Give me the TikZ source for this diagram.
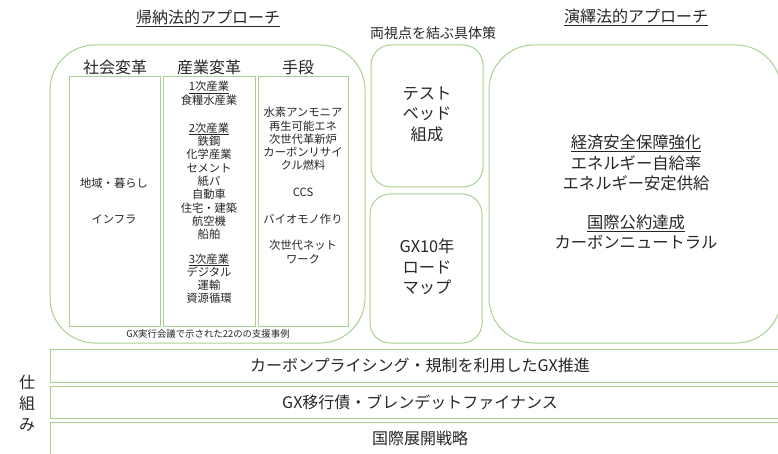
\documentclass[tikz,border=0pt]{standalone}
\usepackage{fontspec}
\setmainfont{Noto Sans CJK JP}
\definecolor{gline}{HTML}{A9D08E}
\definecolor{txt}{HTML}{262626}
\tikzset{
  gbox/.style={draw=gline, line width=1pt},
  ttl/.style={font=\fontsize{16}{18}\selectfont, text=txt, inner sep=0pt},
  ttlb/.style={font=\fontsize{14}{16}\selectfont, text=txt, inner sep=0pt},
  hdr/.style={font=\fontsize{16}{18}\selectfont, text=txt, inner sep=0pt},
  big/.style={font=\fontsize{16.3}{20.5}\selectfont, text=txt, inner sep=0pt, align=center},
  small/.style={font=\fontsize{11.3}{13.3}\selectfont, text=txt, inner sep=0pt, align=center},
  bar/.style={font=\fontsize{16}{18}\selectfont, text=txt, inner sep=0pt},
}
\begin{document}
\begin{tikzpicture}[x=1pt,y=-1pt]
\useasboundingbox (0,0) rectangle (778,454);
\clip (0,0) rectangle (778,454);
% titles
\node[ttl] (t1) at (208,18) {\underline{帰納法的アプローチ}};
\node[ttlb] (t2) at (433,33) {両視点を結ぶ具体策};
\node[ttl] (t3) at (636,17) {\underline{演繹法的アプローチ}};
% left big box
\draw[gbox, rounded corners=45pt] (50,45) rectangle (365,343);
\node[hdr] (h1) at (115,67) {社会変革};
\node[hdr] (h2) at (209,67) {産業変革};
\node[hdr] (h3) at (298,67) {手段};
\draw[gbox] (69,77) rectangle (160,326);
\draw[gbox] (163,77) rectangle (255,326);
\draw[gbox] (258,77) rectangle (348,326);
\node[small] (c1a) at (114,183) {地域・暮らし};
\node[small] (c1b) at (114,219) {インフラ};
\node[small, anchor=north] (c2) at (209,81) {\underline{1次産業}\\食糧水産業\\[15pt]\underline{2次産業}\\鉄鋼\\化学産業\\セメント\\紙パ\\自動車\\住宅・建築\\航空機\\船舶\\[11pt]\underline{3次産業}\\デジタル\\運輸\\資源循環};
\node[small, anchor=north] (c3) at (303,107) {水素アンモニア\\再生可能エネ\\次世代革新炉\\カーボンリサイ\\クル燃料\\[13.3pt]CCS\\[13.3pt]バイオモノ作り\\[13.3pt]次世代ネット\\ワーク};
\node[small, font=\fontsize{9.4}{11}\selectfont] (note) at (208,334) {GX実行会議で示された22のの支援事例};
% middle boxes
\draw[gbox, rounded corners=20pt] (371,45) rectangle (483,187);
\node[big] (m1) at (427,114) {テスト\\ベッド\\組成};
\draw[gbox, rounded corners=20pt] (370,194) rectangle (482,343);
\node[big] (m2) at (427,267) {GX10年\\ロード\\マップ};
% right box
\draw[gbox, rounded corners=45pt] (489,45) rectangle (781,343);
\node[big] (r1) at (636,163) {\underline{経済安全保障強化}\\エネルギー自給率\\エネルギー安定供給};
\node[big] (r2) at (636,232) {\underline{国際公約達成}\\カーボンニュートラル};
% bars
\draw[gbox] (50,349) rectangle (790,382);
\node[bar] (b1) at (420,365) {カーボンプライシング・規制を利用したGX推進};
\draw[gbox] (50,386) rectangle (790,418);
\node[bar] (b2) at (420,402) {GX移行債・ブレンデットファイナンス};
\draw[gbox] (50,422) rectangle (790,470);
\node[bar] (b3) at (420,438) {国際展開戦略};
\node[font=\fontsize{16}{21}\selectfont, text=txt, align=center, inner sep=0pt] (sk) at (27,403) {仕\\組\\み};
\end{tikzpicture}
\end{document}
